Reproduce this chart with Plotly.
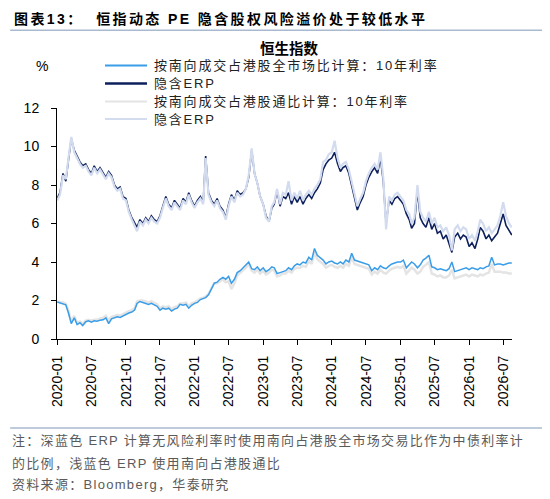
import plotly.graph_objects as go
import pandas as pd

# 半月一个点：每月1日和16日
months = pd.date_range("2020-01-01", "2026-08-01", freq="MS")
dates = []
for m in months:
    dates.append(m)
    dates.append(m + pd.Timedelta(days=15))

# 按南向成交占港股全市场比计算：10年利率
rate_all = [
    1.92, 1.88, 1.85, 1.78, 1.35, 0.80, 1.10, 0.75, 0.85, 0.70, 0.90, 0.95,
    0.88, 0.95, 0.92, 0.98, 1.00, 1.10, 0.80, 1.05, 1.10, 1.15, 1.12, 1.20,
    1.30, 1.35, 1.40, 1.50, 1.85, 1.95, 1.90, 1.85, 1.80, 1.85, 1.75, 1.70,
    1.50, 1.60, 1.55, 1.60, 1.45, 1.55, 1.60, 1.80, 1.75, 1.80, 1.60, 1.75,
    1.85, 1.90, 2.05, 2.10, 2.15, 2.30, 2.60, 2.90, 2.95, 3.10, 3.20, 3.10,
    3.25, 2.90, 3.10, 3.45, 3.55, 3.70, 3.80, 4.00, 3.65, 3.60, 3.75, 3.55,
    3.70, 3.50, 3.60, 3.75, 3.70, 3.40, 3.45, 3.50, 3.55, 3.70, 3.60, 3.80,
    3.90, 3.85, 4.00, 3.95, 4.25, 4.10, 4.70, 4.35, 4.20, 4.10, 3.90, 4.00,
    4.05, 3.95, 3.90, 4.00, 3.90, 4.10, 4.00, 4.45, 4.10, 4.05, 4.00, 3.95,
    3.90, 3.85, 3.55, 3.70, 3.60, 3.80, 3.70, 3.65, 3.80, 3.90, 3.95, 4.00,
    4.00, 4.10, 3.70, 3.85, 4.00, 3.90, 3.70, 3.85, 4.10, 4.20, 4.35, 3.75,
    3.70, 3.60, 3.65, 3.60, 3.55, 3.65, 4.00, 3.50, 3.55, 3.60, 3.65, 3.70,
    3.60, 3.70, 3.65, 3.60, 3.70, 3.65, 3.75, 3.80, 4.25, 3.85, 3.90, 3.90,
    3.85, 3.90, 3.95, 3.95,
]

# 隐含ERP（深蓝）
erp_all = [
    7.3, 7.6, 8.6, 8.2, 9.3, 10.4, 9.8, 9.5, 9.2, 9.0, 9.1, 8.8,
    8.6, 9.0, 8.7, 8.9, 8.6, 8.4, 8.7, 8.5, 8.0, 7.8, 7.9, 7.4,
    7.3, 6.7, 6.3, 6.0, 5.8, 6.2, 6.0, 6.3, 6.1, 6.4, 6.2, 6.1,
    6.4, 6.9, 7.4, 7.0, 6.8, 7.2, 7.0, 6.8, 7.3, 7.1, 7.6, 7.2,
    6.9, 7.2, 7.4, 7.1, 9.5, 7.6, 7.2, 7.0, 7.3, 6.9, 6.7, 6.3,
    7.0, 7.5, 7.2, 7.7, 7.5, 7.6, 7.8, 8.4, 9.8, 8.6, 8.1, 7.4,
    7.0, 6.4, 6.1, 6.8, 7.0, 7.7, 6.9, 7.4, 7.3, 7.6, 7.0, 7.4,
    7.1, 7.4, 7.0, 7.3, 7.5, 7.3, 7.6, 7.8, 8.1, 8.8, 9.1, 9.3,
    9.4, 9.7, 9.1, 8.7, 8.9, 9.0, 8.6, 8.0, 7.3, 6.7, 7.1, 7.4,
    8.0, 8.4, 8.7, 8.9, 8.6, 9.4, 8.2, 6.0, 7.2, 7.0, 7.3, 7.4,
    7.2, 7.0, 6.5, 6.2, 5.75, 6.0, 7.7, 6.3, 6.0, 5.8, 6.3, 5.7,
    6.0, 5.5, 5.6, 5.2, 5.4, 5.0, 4.5, 5.3, 5.5, 5.2, 5.4, 5.3,
    4.8, 5.0, 4.7, 5.2, 5.8, 5.6, 5.2, 5.4, 5.1, 5.3, 5.5, 6.0,
    6.5, 5.9, 5.6, 5.4,
]

# 按南向成交占港股通比计算：10年利率
rate_hk = [
    1.95, 1.92, 1.90, 1.82, 1.45, 0.90, 1.20, 0.85, 0.90, 0.80, 0.95, 1.00,
    0.95, 1.00, 1.00, 1.05, 1.10, 1.20, 0.95, 1.15, 1.20, 1.25, 1.22, 1.30,
    1.40, 1.45, 1.50, 1.60, 1.95, 2.00, 2.00, 1.95, 1.90, 1.95, 1.85, 1.80,
    1.60, 1.70, 1.65, 1.70, 1.55, 1.65, 1.70, 1.85, 1.85, 1.90, 1.70, 1.85,
    1.90, 2.00, 2.10, 2.15, 2.20, 2.35, 2.65, 2.90, 2.90, 3.00, 3.10, 2.95,
    3.00, 2.60, 2.90, 3.30, 3.45, 3.60, 3.70, 3.90, 3.55, 3.45, 3.60, 3.40,
    3.55, 3.35, 3.45, 3.60, 3.55, 3.25, 3.30, 3.40, 3.40, 3.55, 3.45, 3.65,
    3.70, 3.70, 3.80, 3.75, 4.05, 3.90, 4.50, 4.15, 4.00, 3.90, 3.70, 3.80,
    3.85, 3.75, 3.70, 3.80, 3.70, 3.90, 3.80, 4.25, 3.90, 3.85, 3.80, 3.75,
    3.70, 3.65, 3.35, 3.50, 3.40, 3.60, 3.45, 3.40, 3.55, 3.65, 3.70, 3.75,
    3.70, 3.80, 3.40, 3.55, 3.70, 3.60, 3.40, 3.50, 3.75, 3.85, 4.00, 3.40,
    3.35, 3.25, 3.30, 3.20, 3.20, 3.30, 3.60, 3.15, 3.20, 3.25, 3.30, 3.35,
    3.25, 3.35, 3.30, 3.25, 3.35, 3.30, 3.40, 3.45, 3.90, 3.50, 3.50, 3.50,
    3.45, 3.45, 3.40, 3.40,
]

# 隐含ERP（浅蓝）
erp_hk = [
    7.2, 7.5, 8.5, 8.3, 9.4, 10.5, 9.7, 9.4, 9.1, 8.9, 9.0, 8.7,
    8.5, 8.9, 8.6, 8.8, 8.5, 8.3, 8.6, 8.4, 7.9, 7.7, 7.8, 7.3,
    7.2, 6.6, 6.2, 5.9, 5.6, 6.1, 5.9, 6.2, 6.0, 6.3, 6.1, 6.0,
    6.3, 6.8, 7.3, 6.9, 6.7, 7.1, 6.9, 6.7, 7.2, 7.0, 7.5, 7.1,
    6.8, 7.1, 7.3, 7.0, 9.4, 7.5, 7.1, 6.9, 7.2, 6.8, 6.6, 6.2,
    6.9, 7.4, 7.1, 7.6, 7.4, 7.5, 7.8, 8.5, 9.9, 8.6, 8.1, 7.4,
    7.0, 6.3, 6.1, 6.9, 7.1, 7.8, 7.0, 7.6, 7.5, 8.2, 7.2, 7.6,
    7.3, 7.7, 7.2, 7.5, 7.7, 7.5, 7.8, 8.0, 8.3, 9.2, 9.3, 9.6,
    9.7, 10.3, 9.4, 8.9, 9.1, 9.2, 8.8, 8.2, 7.5, 6.9, 7.3, 7.6,
    8.2, 8.6, 8.9, 9.1, 8.8, 9.7, 8.4, 5.7, 7.4, 7.2, 7.5, 7.6,
    7.4, 7.2, 6.7, 6.5, 6.0, 6.3, 8.0, 6.6, 6.3, 6.1, 6.6, 6.0,
    6.3, 5.8, 5.9, 5.6, 5.8, 5.4, 4.6, 5.7, 5.9, 5.6, 5.8, 5.7,
    5.2, 5.4, 5.1, 5.6, 6.2, 6.0, 5.6, 5.8, 5.5, 5.7, 5.9, 6.4,
    7.1, 6.4, 6.0, 5.8,
]

names = ["按南向成交占港股全市场比计算：10年利率", "隐含ERP",
         "按南向成交占港股通比计算：10年利率", "隐含ERP"]
colors = ["#3A9DE8", "#0D1F5C", "#E4E4E4", "#D3DCEF"]

font_main = "Arial, Liberation Sans, Noto Sans CJK SC"


def spaced(text, px):
    return '<span style="letter-spacing:%spx">%s</span>' % (px, text)


fig = go.Figure()
fig.add_trace(go.Scatter(x=dates, y=rate_hk, mode="lines", name=names[2],
                         line=dict(color=colors[2], width=2.5)))
fig.add_trace(go.Scatter(x=dates, y=rate_all, mode="lines", name=names[0],
                         line=dict(color=colors[0], width=1.5)))
fig.add_trace(go.Scatter(x=dates, y=erp_all, mode="lines", name=names[1],
                         line=dict(color=colors[1], width=1.6)))
fig.add_trace(go.Scatter(x=dates, y=erp_hk, mode="lines", name=names[3],
                         line=dict(color=colors[3], width=2.2)))

fig.update_xaxes(range=["2019-12-31", "2026-08-17"], tick0="2020-01-01", dtick="M6",
                 tickformat="%Y-%m", tickangle=-90, showline=True, linecolor="black",
                 linewidth=1, ticks="outside", ticklen=5, tickcolor="black",
                 ticklabelstandoff=5, showgrid=False, zeroline=False,
                 tickfont=dict(size=14, color="black"))
fig.update_yaxes(range=[0, 12], dtick=2, showline=True, linecolor="black", linewidth=1,
                 ticks="outside", ticklen=5, tickcolor="black", ticklabelstandoff=9,
                 showgrid=False, zeroline=False, tickfont=dict(size=14, color="black"))

# 图例（手工排布，贴近原图位置）
leg_y = [1.184, 1.106, 1.028, 0.952]
leg_w = [2, 2.5, 2, 2]
shapes = [
    dict(type="line", xref="paper", yref="paper", x0=-0.103, x1=1.066, y0=1.337, y1=1.337,
         line=dict(color="#A9BAD0", width=1.5)),
    dict(type="line", xref="paper", yref="paper", x0=-0.103, x1=1.066, y0=-0.385, y1=-0.385,
         line=dict(color="#A9BAD0", width=1.5)),
]
annotations = [
    dict(text="<b>" + spaced("图表13：  恒指动态 PE 隐含股权风险溢价处于较低水平", 2.4) + "</b>",
         xref="paper", yref="paper", x=-0.099, y=1.385, xanchor="left", yanchor="middle",
         showarrow=False, font=dict(size=14, color="black")),
    dict(text="<b>恒生指数</b>", xref="paper", yref="paper", x=0.51, y=1.258,
         xanchor="center", yanchor="middle", showarrow=False, font=dict(size=14.5, color="black")),
    dict(text="%", xref="paper", yref="paper", x=-0.034, y=1.180, xanchor="center",
         yanchor="middle", showarrow=False, font=dict(size=14, color="black")),
]
for i in range(4):
    shapes.append(dict(type="line", xref="paper", yref="paper", x0=0.1055, x1=0.1978,
                       y0=leg_y[i], y1=leg_y[i], line=dict(color=colors[i], width=leg_w[i])))
    annotations.append(dict(text=spaced(names[i], 1.8), xref="paper", yref="paper", x=0.2088,
                            y=leg_y[i], xanchor="left", yanchor="middle", showarrow=False,
                            font=dict(size=13, color="#222222")))

notes = ["注：深蓝色 ERP 计算无风险利率时使用南向占港股全市场交易比作为中债利率计",
         "的比例，浅蓝色 ERP 使用南向占港股通比",
         "资料来源：Bloomberg，华泰研究"]
notes_y = [-0.441, -0.541, -0.628]
for t, yy in zip(notes, notes_y):
    annotations.append(dict(text=spaced(t, 1.3), xref="paper", yref="paper", x=-0.103, y=yy,
                            xanchor="left", yanchor="middle", showarrow=False,
                            font=dict(size=13, color="#5A5A5A")))

fig.update_layout(
    width=542, height=491,
    margin=dict(l=49, r=38, t=100, b=160),
    plot_bgcolor="white", paper_bgcolor="white",
    font=dict(family=font_main, color="black"),
    showlegend=False,
    shapes=shapes,
    annotations=annotations,
)

fig.write_html("out.html")
